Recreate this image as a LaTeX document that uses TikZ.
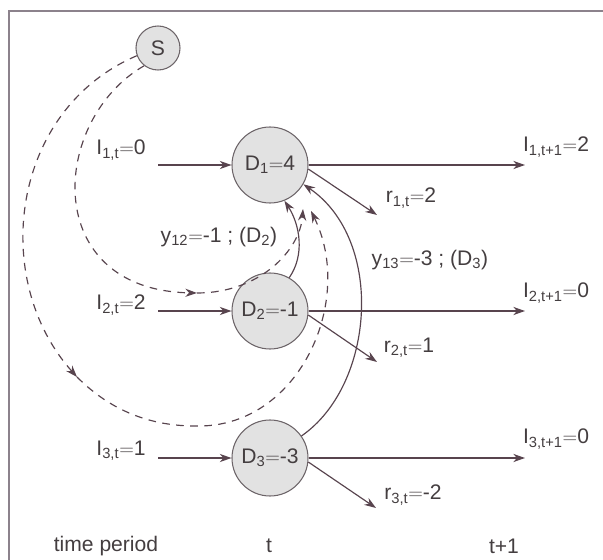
\documentclass[tikz,border=0pt]{standalone}
\usepackage{fontspec}
\setmainfont{Liberation Sans}
\usetikzlibrary{arrows.meta}
\definecolor{inkline}{RGB}{88,68,78}
\definecolor{inktext}{RGB}{68,62,64}
\definecolor{circline}{RGB}{108,100,104}
\definecolor{circfill}{RGB}{226,226,226}
\definecolor{framecol}{RGB}{140,130,140}
\newcommand{\eqs}{{$=$}}
\tikzset{
  lot/.style={circle, draw=circline, fill=circfill, line width=0.9pt, minimum size=2.28cm, inner sep=0pt, font=\fontsize{18}{20}\selectfont, text=inktext},
  src/.style={lot, minimum size=1.32cm},
  lbl/.style={font=\fontsize{18}{20}\selectfont, text=inktext, inner sep=0pt},
  flow/.style={draw=inkline, line width=1pt, -{Stealth[length=10pt,width=7pt]}},
  shiftflow/.style={flow, dash pattern=on 6.5pt off 5.5pt},
  frame/.style={draw=framecol, line width=1.2pt},
}

\begin{document}
\begin{tikzpicture}[x=0.03cm, y=-0.03cm]
\useasboundingbox (0,0) rectangle (603,560);
\draw[frame] (603,11) -- (9,11) -- (9,560);
% lots
\node[src] (S) at (158,48) {S};
\node[lot] (D1) at (270,165) {D\textsubscript{1}\eqs4};
\node[lot] (D2) at (270,311) {D\textsubscript{2}\eqs-1};
\node[lot] (D3) at (270,458) {D\textsubscript{3}\eqs-3};
% inventory in
\node[lbl] (i1) at (121,150) {I\textsubscript{1,t}\eqs0};
\node[lbl] (i2) at (121,305) {I\textsubscript{2,t}\eqs2};
\node[lbl] (i3) at (121,451) {I\textsubscript{3,t}\eqs1};
\coordinate (in1) at (158,165);
\coordinate (in2) at (158,311);
\coordinate (in3) at (158,458);
\draw[flow] (in1) -- (D1);
\draw[flow] (in2) -- (D2);
\draw[flow] (in3) -- (D3);
% inventory out
\node[lbl] (o1) at (556,147) {I\textsubscript{1,t+1}\eqs2};
\node[lbl] (o2) at (556,293) {I\textsubscript{2,t+1}\eqs0};
\node[lbl] (o3) at (556,439) {I\textsubscript{3,t+1}\eqs0};
\coordinate (out1) at (525,165);
\coordinate (out2) at (525,311);
\coordinate (out3) at (525,458);
\draw[flow] (D1) -- (out1);
\draw[flow] (D2) -- (out2);
\draw[flow] (D3) -- (out3);
% residuals
\node[lbl] (r1) at (411,198) {r\textsubscript{1,t}\eqs2};
\node[lbl] (r2) at (409,348) {r\textsubscript{2,t}\eqs1};
\node[lbl] (r3) at (413,495) {r\textsubscript{3,t}\eqs-2};
\coordinate (re1) at (377,215);
\coordinate (re2) at (377,362);
\coordinate (re3) at (376,508);
\draw[flow] (D1.-6) -- (re1);
\draw[flow] (D2.-6) -- (re2);
\draw[flow] (D3.-6) -- (re3);
% transfers
\node[lbl] (y12) at (219,237) {y\textsubscript{12}\eqs-1 ; (D\textsubscript{2})};
\node[lbl] (y13) at (430,260) {y\textsubscript{13}\eqs-3 ; (D\textsubscript{3})};
\draw[flow] (D2.60) .. controls (305,255) and (300,225) .. (D1.-68);
\draw[flow] (D3.35) .. controls (375,385) and (385,240) .. (D1.-30);
% supply paths
\coordinate (m1) at (197,293);
\coordinate (m2) at (77,377);
\coordinate (t1) at (303,209);
\coordinate (t2) at (311,211);
\draw[shiftflow] (S.232) .. controls (50,120) and (40,290) .. (m1);
\draw[shiftflow] (m1) .. controls (260,293) and (300,250) .. (t1);
\draw[shiftflow] (S.200) .. controls (10,110) and (-10,280) .. (m2);
\draw[shiftflow] (m2) .. controls (110,410) and (150,427) .. (200,426)
  .. controls (300,425) and (355,300) .. (t2);
% periods
\node[lbl] (tp) at (106,546) {time period};
\node[lbl] (tt) at (269,546) {t};
\node[lbl] (tn) at (504,546) {t+1};
\end{tikzpicture}
\end{document}
